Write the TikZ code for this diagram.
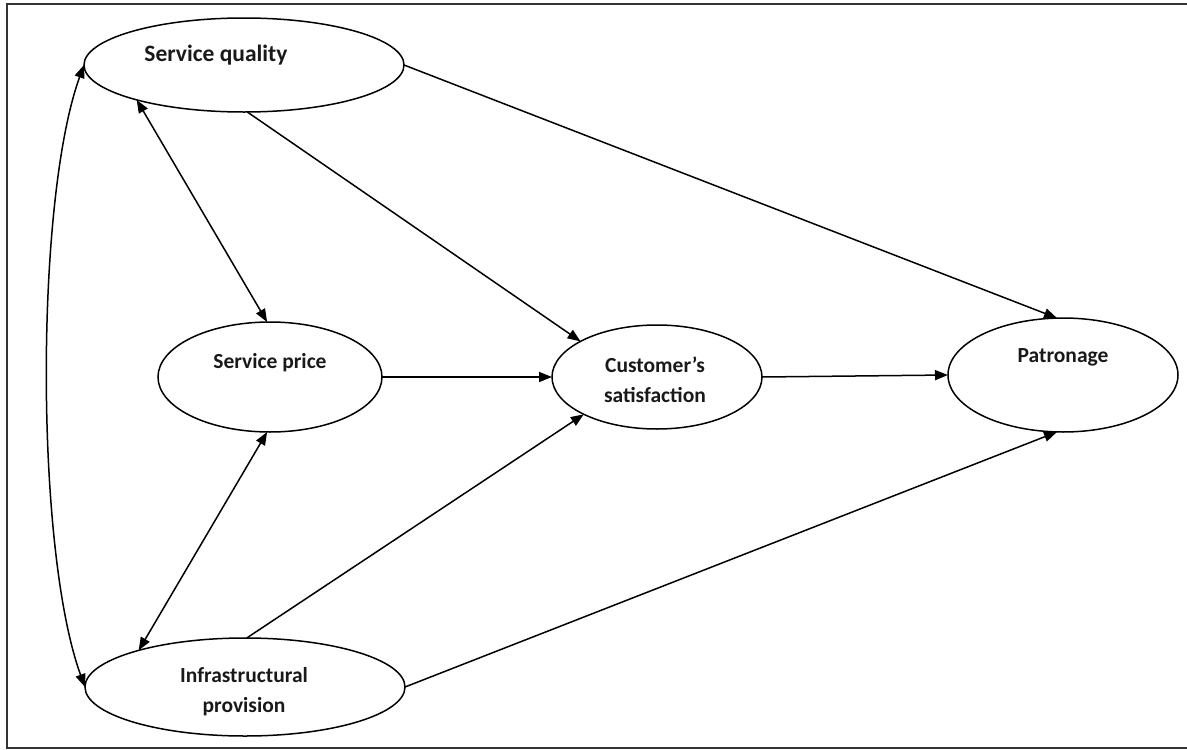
\documentclass[tikz,border=0pt]{standalone}
\usepackage{fontspec}
\setmainfont{Carlito}
\usetikzlibrary{arrows.meta,shapes.geometric}
\begin{document}
\begin{tikzpicture}[x=1pt,y=-1pt,
  ell/.style={draw, ellipse, line width=1.5pt, inner sep=0pt, outer sep=0pt},
  lbl/.style={font=\fontsize{21.5}{30}\selectfont\bfseries, anchor=base, inner sep=0pt, text=black!90},
  arr/.style={line width=1.5pt, -{Triangle[length=13pt,width=10pt]}},
  darr/.style={line width=1.5pt, {Triangle[length=13pt,width=10pt]}-{Triangle[length=13pt,width=10pt]}}]
\useasboundingbox (0,0) rectangle (1187,750);
\draw[line width=1.3pt, draw=black!80] (1187,4) -- (7,4) -- (7,748) -- (1187,748);

\node[ell, minimum width=320pt, minimum height=94pt] (sq) at (244,65) {};
\node[ell, minimum width=224pt, minimum height=110pt] (sp) at (270,377) {};
\node[ell, minimum width=210pt, minimum height=104pt] (cs) at (657,377) {};
\node[ell, minimum width=230pt, minimum height=114pt] (pa) at (1063,375) {};
\node[ell, minimum width=320pt, minimum height=98pt] (ip) at (245,687) {};

\node[lbl, font=\fontsize{23.5}{30}\selectfont\bfseries] (sqt) at (216,61) {Service quality};
\node[lbl] (spt) at (270,368) {Service price};
\node[lbl] (cst1) at (655,372) {Customer’s};
\node[lbl] (cst2) at (655,402) {satisfaction};
\node[lbl] (pat) at (1063,362) {Patronage};
\node[lbl] (ipt1) at (244,682) {Infrastructural};
\node[lbl] (ipt2) at (244,712) {provision};

\draw[arr] (sq.east) -- (pa.96);
\draw[arr] (sq.-86) -- (cs.155);
\draw[darr] (sq.198) -- (sp.93);
\draw[arr] (sp.east) -- (cs.west);
\draw[arr] (cs.east) -- (pa.west);
\draw[darr] (sp.-93) -- (ip.161);
\draw[arr] (ip.88) -- (cs.207);
\draw[arr] (ip.east) -- (pa.264);
\draw[darr] (sq.west) .. controls (35,200) and (35,550) .. (ip.west);
\end{tikzpicture}
\end{document}
